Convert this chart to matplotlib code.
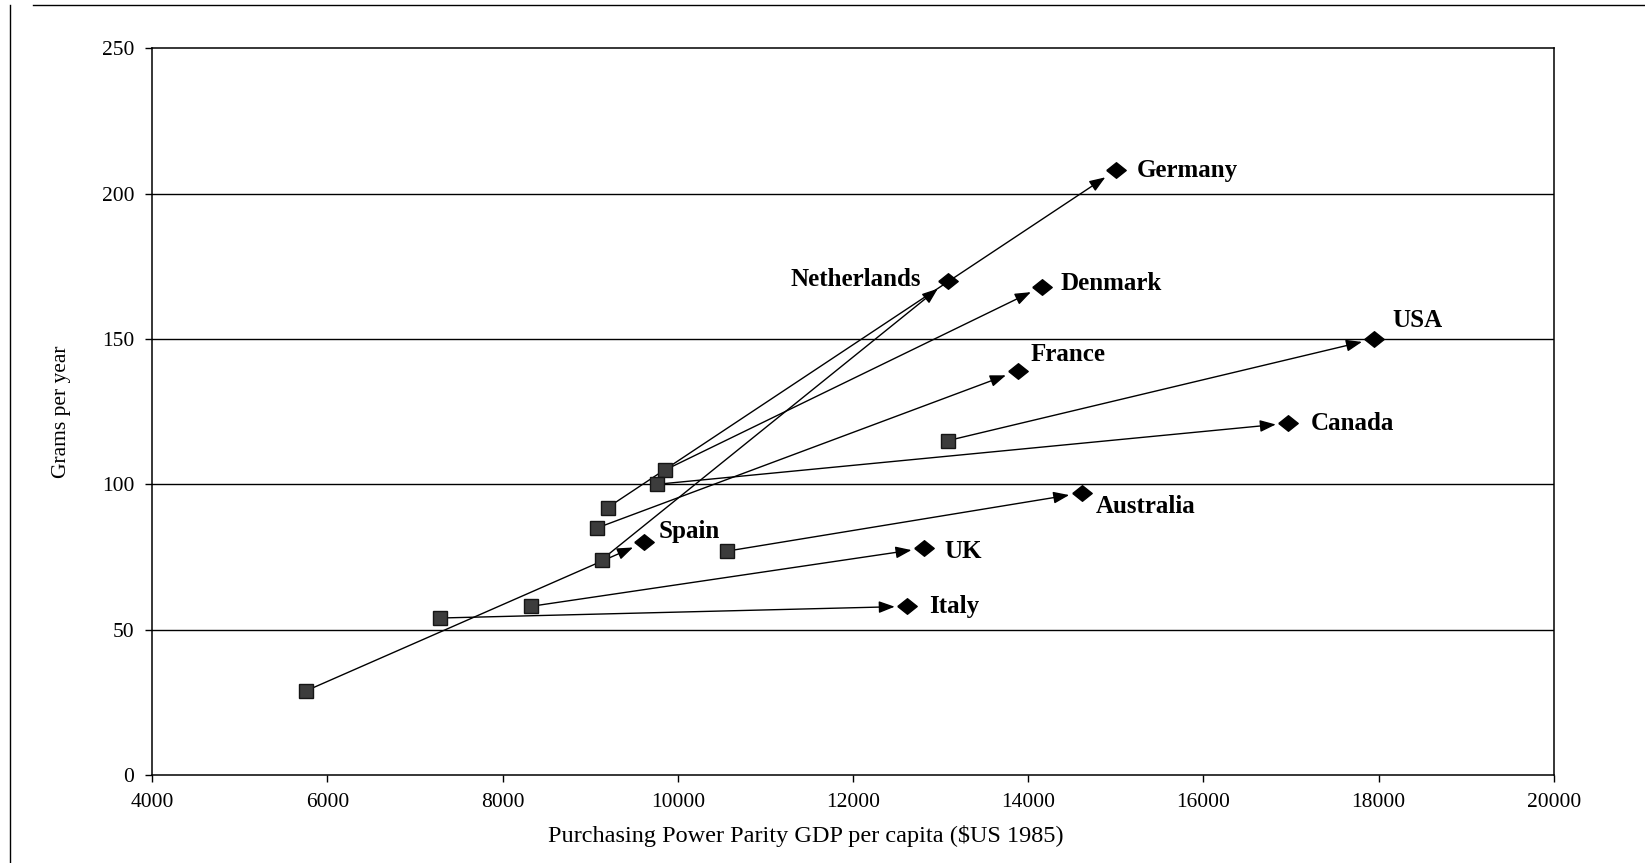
import matplotlib.pyplot as plt
from matplotlib.lines import Line2D

plt.rcParams["font.family"] = ["Liberation Serif", "DejaVu Serif"]

# start (square) and end (diamond) positions per country
countries = ["Germany", "Netherlands", "Denmark", "USA", "France",
             "Canada", "Australia", "UK", "Italy", "Spain"]
gdp_start = [9200, 9130, 9860, 13080, 9080, 9760, 10560, 8320, 7290, 5760]
grams_start = [92, 74, 105, 115, 85, 100, 77, 58, 54, 29]
gdp_end = [15000, 13080, 14160, 17950, 13880, 16970, 14610, 12810, 12620, 9620]
grams_end = [208, 170, 168, 150, 139, 121, 97, 78, 58, 80]

x_ticks = [4000, 6000, 8000, 10000, 12000, 14000, 16000, 18000, 20000]
y_ticks = [0, 50, 100, 150, 200, 250]

# label offsets in points (dx, dy, ha)
label_pos = {
    "Germany": (15, 0, "left"),
    "Netherlands": (-19, 1, "right"),
    "Denmark": (13, 2, "left"),
    "USA": (13, 13, "left"),
    "France": (9, 12, "left"),
    "Canada": (16, 0, "left"),
    "Australia": (10, -10, "left"),
    "UK": (15, -2, "left"),
    "Italy": (16, 0, "left"),
    "Spain": (10, 8, "left"),
}

# slightly flattened diamond like the original
diamond = [(-1, 0), (0, 0.8), (1, 0), (0, -0.8), (-1, 0)]

fig = plt.figure(figsize=(16.45, 8.63), dpi=100)
ax = fig.add_axes([0.0925, 0.102, 0.852, 0.842])

ax.set_xlim(4000, 20000)
ax.set_ylim(0, 250)
ax.set_xticks(x_ticks)
ax.set_yticks(y_ticks)
ax.tick_params(direction="out", length=5, width=1, labelsize=15.5, pad=8)
for s in ax.spines.values():
    s.set_linewidth(1.1)
    s.set_color("black")

for y in y_ticks[1:-1]:
    ax.axhline(y, color="black", lw=1.0, zorder=1)

for i, c in enumerate(countries):
    ax.annotate("", xy=(gdp_end[i], grams_end[i]),
                xytext=(gdp_start[i], grams_start[i]),
                arrowprops=dict(arrowstyle="-|>,head_length=0.8,head_width=0.3",
                                mutation_scale=12, color="black", lw=1.0,
                                shrinkA=3, shrinkB=9),
                zorder=3)

ax.plot(gdp_start, grams_start, "s", ms=9.5, mfc="#3c3c3c", mec="#151515",
        mew=1.0, ls="none", zorder=4)
ax.plot(gdp_end, grams_end, marker=diamond, ms=14, color="black",
        ls="none", zorder=4)

for i, c in enumerate(countries):
    dx, dy, ha = label_pos[c]
    ax.annotate(c, xy=(gdp_end[i], grams_end[i]), xytext=(dx, dy),
                textcoords="offset points", ha=ha, va="center",
                fontsize=18, fontweight="bold", zorder=5)

ax.set_ylabel("Grams per year", fontsize=15.5, labelpad=22)
fig.text(0.49, 0.018, "Purchasing Power Parity GDP per capita ($US 1985)",
         fontsize=17.5, ha="center", va="bottom")

# outer frame from the scanned page
fig.add_artist(Line2D([0.006, 0.006], [0, 0.994], transform=fig.transFigure,
                      color="black", lw=1.0))
fig.add_artist(Line2D([0.02, 1.0], [0.994, 0.994], transform=fig.transFigure,
                      color="black", lw=1.0))

fig.savefig("out.png", dpi=100)
